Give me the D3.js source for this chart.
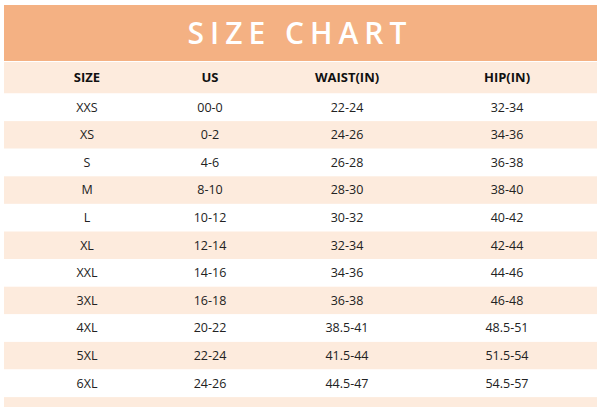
<!DOCTYPE html>
<html>
<head>
<meta charset="utf-8">
<script src="https://cdn.jsdelivr.net/npm/d3@7"></script>
<style>
  body { margin: 0; background: #fff; }
  svg { display: block; font-family: "Open Sans", sans-serif; }
</style>
</head>
<body>
<svg id="chart" width="600" height="407"></svg>
<script>
const columns = ["SIZE", "US", "WAIST(IN)", "HIP(IN)"];
const sizes = ["XXS", "XS", "S", "M", "L", "XL", "XXL", "3XL", "4XL", "5XL", "6XL"];
const us = ["00-0", "0-2", "4-6", "8-10", "10-12", "12-14", "14-16", "16-18", "20-22", "22-24", "24-26"];
const waist = ["22-24", "24-26", "26-28", "28-30", "30-32", "32-34", "34-36", "36-38", "38.5-41", "41.5-44", "44.5-47"];
const hip = ["32-34", "34-36", "36-38", "38-40", "40-42", "42-44", "44-46", "46-48", "48.5-51", "51.5-54", "54.5-57"];

const rows = sizes.map((s, i) => [s, us[i], waist[i], hip[i]]);

const svg = d3.select("#chart");
const left = 4, right = 597;

// Title band
svg.append("rect")
  .attr("x", left).attr("y", 5)
  .attr("width", right - left).attr("height", 56)
  .attr("fill", "#f4b183");
svg.append("text")
  .attr("x", 300).attr("y", 44)
  .attr("text-anchor", "middle")
  .attr("fill", "#fff")
  .style("font-size", "30px")
  .style("font-weight", "600")
  .style("letter-spacing", "6px")
  .text("SIZE CHART");

// Column centres
const x = d3.scaleOrdinal().domain(columns).range([87, 210, 347, 507]);

// Row positions: header row then the data rows, plus a trailing strip
const y = d3.scaleBand()
  .domain(d3.range(rows.length + 2))
  .range([62, 62 + 31 + (rows.length + 1) * 27.6]);

const rowY = i => i === 0 ? 62 : 93.5 + (i - 1) * 27.6;
const rowH = i => i === 0 ? 31.5 : 27.6;

// Background stripes (header row light, then alternating)
d3.range(rows.length + 2).forEach(i => {
  const light = i === 0 || i % 2 === 0;
  svg.append("rect")
    .attr("x", left).attr("y", rowY(i))
    .attr("width", right - left).attr("height", rowH(i))
    .attr("fill", light ? "#fdebdd" : "#fff");
});

// Header labels
svg.selectAll(".head")
  .data(columns)
  .enter()
  .append("text")
  .attr("class", "head")
  .attr("x", d => x(d))
  .attr("y", rowY(0) + rowH(0) / 2)
  .attr("dy", "0.35em")
  .attr("text-anchor", "middle")
  .style("font-size", "13px")
  .style("font-weight", "700")
  .attr("fill", "#111")
  .text(d => d);

// Body cells
rows.forEach((r, i) => {
  svg.selectAll(".cell" + i)
    .data(r)
    .enter()
    .append("text")
    .attr("x", (d, j) => x(columns[j]))
    .attr("y", rowY(i + 1) + rowH(i + 1) / 2)
    .attr("dy", "0.35em")
    .attr("text-anchor", "middle")
    .style("font-size", "12.5px")
    .attr("fill", "#222")
    .text(d => d);
});
</script>
</body>
</html>
